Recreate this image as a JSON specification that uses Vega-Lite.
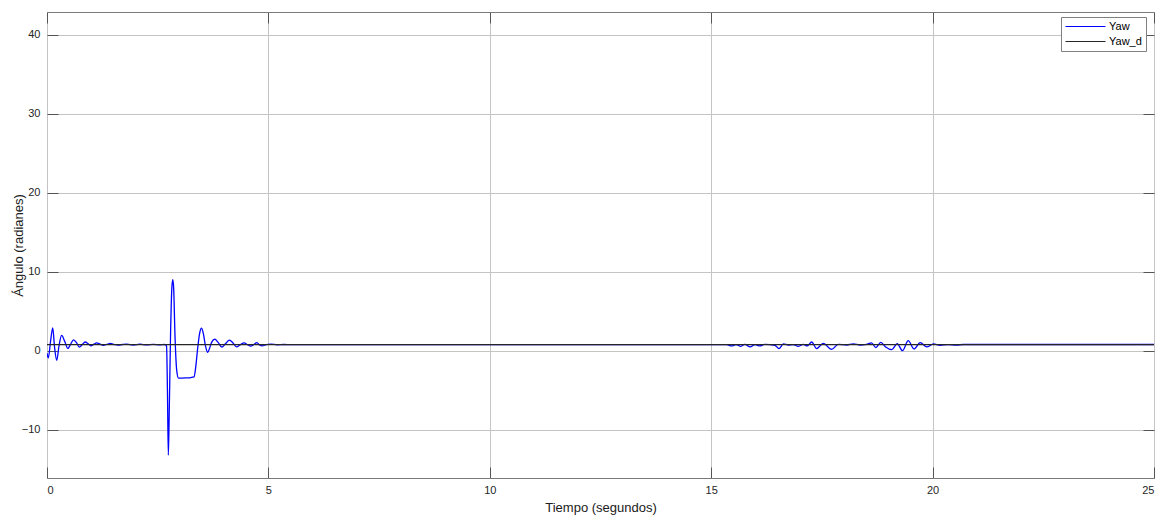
{
  "$schema": "https://vega.github.io/schema/vega-lite/v6.json",
  "width": 1107,
  "height": 466,
  "autosize": {"type": "none"},
  "padding": {"left": 47, "top": 12, "right": 12, "bottom": 42},
  "background": "white",
  "config": {
    "font": "Liberation Sans",
    "view": {"stroke": "#7a7a7a", "strokeWidth": 1},
    "axis": {
      "domain": false,
      "grid": true,
      "gridColor": "#c4c4c4",
      "gridWidth": 1,
      "tickColor": "#555555",
      "tickSize": -11,
      "labelFontSize": 11,
      "labelColor": "#262626",
      "titleFontSize": 13,
      "titleFontWeight": "normal",
      "titleColor": "#202020"
    }
  },
  "datasets": {
    "yaw": [
      {"t": 0, "v": -0.3, "s": "Yaw"},
      {"t": 0.03, "v": -0.9, "s": "Yaw"},
      {"t": 0.08, "v": 1.2, "s": "Yaw"},
      {"t": 0.13, "v": 2.9, "s": "Yaw"},
      {"t": 0.17, "v": 0.5, "s": "Yaw"},
      {"t": 0.22, "v": -1.2, "s": "Yaw"},
      {"t": 0.27, "v": 0.6, "s": "Yaw"},
      {"t": 0.33, "v": 1.95, "s": "Yaw"},
      {"t": 0.40, "v": 1.2, "s": "Yaw"},
      {"t": 0.47, "v": 0.3, "s": "Yaw"},
      {"t": 0.53, "v": 0.8, "s": "Yaw"},
      {"t": 0.60, "v": 1.4, "s": "Yaw"},
      {"t": 0.67, "v": 1.0, "s": "Yaw"},
      {"t": 0.73, "v": 0.47, "s": "Yaw"},
      {"t": 0.80, "v": 0.8, "s": "Yaw"},
      {"t": 0.86, "v": 1.12, "s": "Yaw"},
      {"t": 0.93, "v": 0.9, "s": "Yaw"},
      {"t": 0.99, "v": 0.63, "s": "Yaw"},
      {"t": 1.06, "v": 0.85, "s": "Yaw"},
      {"t": 1.12, "v": 1.0, "s": "Yaw"},
      {"t": 1.20, "v": 0.85, "s": "Yaw"},
      {"t": 1.27, "v": 0.7, "s": "Yaw"},
      {"t": 1.35, "v": 0.82, "s": "Yaw"},
      {"t": 1.43, "v": 0.93, "s": "Yaw"},
      {"t": 1.52, "v": 0.8, "s": "Yaw"},
      {"t": 1.60, "v": 0.72, "s": "Yaw"},
      {"t": 1.70, "v": 0.8, "s": "Yaw"},
      {"t": 1.80, "v": 0.86, "s": "Yaw"},
      {"t": 1.95, "v": 0.74, "s": "Yaw"},
      {"t": 2.10, "v": 0.84, "s": "Yaw"},
      {"t": 2.25, "v": 0.76, "s": "Yaw"},
      {"t": 2.40, "v": 0.82, "s": "Yaw"},
      {"t": 2.55, "v": 0.76, "s": "Yaw"},
      {"t": 2.66, "v": 0.80, "s": "Yaw"},
      {"t": 2.70, "v": 0.6, "s": "Yaw"},
      {"t": 2.72, "v": -5, "s": "Yaw"},
      {"t": 2.74, "v": -13.2, "s": "Yaw"},
      {"t": 2.76, "v": -8, "s": "Yaw"},
      {"t": 2.79, "v": 2, "s": "Yaw"},
      {"t": 2.82, "v": 8, "s": "Yaw"},
      {"t": 2.84, "v": 9.0, "s": "Yaw"},
      {"t": 2.86, "v": 8, "s": "Yaw"},
      {"t": 2.89, "v": 2, "s": "Yaw"},
      {"t": 2.93, "v": -2.5, "s": "Yaw"},
      {"t": 2.97, "v": -3.45, "s": "Yaw"},
      {"t": 3.05, "v": -3.45, "s": "Yaw"},
      {"t": 3.15, "v": -3.42, "s": "Yaw"},
      {"t": 3.25, "v": -3.38, "s": "Yaw"},
      {"t": 3.32, "v": -3.3, "s": "Yaw"},
      {"t": 3.36, "v": -2.0, "s": "Yaw"},
      {"t": 3.40, "v": 0.2, "s": "Yaw"},
      {"t": 3.45, "v": 2.3, "s": "Yaw"},
      {"t": 3.49, "v": 2.87, "s": "Yaw"},
      {"t": 3.53, "v": 2.2, "s": "Yaw"},
      {"t": 3.58, "v": 0.6, "s": "Yaw"},
      {"t": 3.63, "v": -0.2, "s": "Yaw"},
      {"t": 3.67, "v": 0.3, "s": "Yaw"},
      {"t": 3.72, "v": 1.1, "s": "Yaw"},
      {"t": 3.79, "v": 1.48, "s": "Yaw"},
      {"t": 3.86, "v": 1.1, "s": "Yaw"},
      {"t": 3.95, "v": 0.47, "s": "Yaw"},
      {"t": 4.03, "v": 0.9, "s": "Yaw"},
      {"t": 4.12, "v": 1.35, "s": "Yaw"},
      {"t": 4.20, "v": 1.0, "s": "Yaw"},
      {"t": 4.28, "v": 0.5, "s": "Yaw"},
      {"t": 4.36, "v": 0.75, "s": "Yaw"},
      {"t": 4.45, "v": 1.0, "s": "Yaw"},
      {"t": 4.53, "v": 0.78, "s": "Yaw"},
      {"t": 4.60, "v": 0.6, "s": "Yaw"},
      {"t": 4.67, "v": 0.8, "s": "Yaw"},
      {"t": 4.74, "v": 1.05, "s": "Yaw"},
      {"t": 4.80, "v": 0.75, "s": "Yaw"},
      {"t": 4.86, "v": 0.62, "s": "Yaw"},
      {"t": 4.95, "v": 0.78, "s": "Yaw"},
      {"t": 5.05, "v": 0.85, "s": "Yaw"},
      {"t": 5.20, "v": 0.76, "s": "Yaw"},
      {"t": 5.35, "v": 0.8, "s": "Yaw"},
      {"t": 5.50, "v": 0.78, "s": "Yaw"},
      {"t": 5.60, "v": 0.785, "s": "Yaw"},
      {"t": 15.35, "v": 0.785, "s": "Yaw"},
      {"t": 15.46, "v": 0.62, "s": "Yaw"},
      {"t": 15.56, "v": 0.785, "s": "Yaw"},
      {"t": 15.67, "v": 0.57, "s": "Yaw"},
      {"t": 15.76, "v": 0.83, "s": "Yaw"},
      {"t": 15.88, "v": 0.49, "s": "Yaw"},
      {"t": 15.99, "v": 0.785, "s": "Yaw"},
      {"t": 16.10, "v": 0.62, "s": "Yaw"},
      {"t": 16.21, "v": 0.83, "s": "Yaw"},
      {"t": 16.33, "v": 0.785, "s": "Yaw"},
      {"t": 16.44, "v": 0.70, "s": "Yaw"},
      {"t": 16.53, "v": 0.28, "s": "Yaw"},
      {"t": 16.63, "v": 0.87, "s": "Yaw"},
      {"t": 16.74, "v": 0.74, "s": "Yaw"},
      {"t": 16.85, "v": 0.785, "s": "Yaw"},
      {"t": 16.97, "v": 0.57, "s": "Yaw"},
      {"t": 17.08, "v": 0.83, "s": "Yaw"},
      {"t": 17.17, "v": 0.62, "s": "Yaw"},
      {"t": 17.27, "v": 1.12, "s": "Yaw"},
      {"t": 17.38, "v": 0.28, "s": "Yaw"},
      {"t": 17.53, "v": 0.95, "s": "Yaw"},
      {"t": 17.72, "v": 0.19, "s": "Yaw"},
      {"t": 17.87, "v": 0.83, "s": "Yaw"},
      {"t": 18.06, "v": 0.74, "s": "Yaw"},
      {"t": 18.21, "v": 0.87, "s": "Yaw"},
      {"t": 18.36, "v": 0.74, "s": "Yaw"},
      {"t": 18.51, "v": 0.83, "s": "Yaw"},
      {"t": 18.62, "v": 1.0, "s": "Yaw"},
      {"t": 18.72, "v": 0.41, "s": "Yaw"},
      {"t": 18.83, "v": 1.08, "s": "Yaw"},
      {"t": 18.94, "v": 0.49, "s": "Yaw"},
      {"t": 19.08, "v": 0.15, "s": "Yaw"},
      {"t": 19.20, "v": 0.91, "s": "Yaw"},
      {"t": 19.32, "v": 0.02, "s": "Yaw"},
      {"t": 19.45, "v": 1.29, "s": "Yaw"},
      {"t": 19.58, "v": 0.24, "s": "Yaw"},
      {"t": 19.72, "v": 1.04, "s": "Yaw"},
      {"t": 19.87, "v": 0.49, "s": "Yaw"},
      {"t": 20.02, "v": 0.87, "s": "Yaw"},
      {"t": 20.17, "v": 0.70, "s": "Yaw"},
      {"t": 20.35, "v": 0.785, "s": "Yaw"},
      {"t": 20.54, "v": 0.74, "s": "Yaw"},
      {"t": 20.70, "v": 0.80, "s": "Yaw"},
      {"t": 25, "v": 0.80, "s": "Yaw"}
    ],
    "yawd": [
      {"t": 0, "v": 0.785, "s": "Yaw_d"},
      {"t": 25, "v": 0.785, "s": "Yaw_d"}
    ]
  },
  "layer": [
    {
      "data": {"name": "yaw"},
      "mark": {"type": "line", "strokeWidth": 1.3, "interpolate": "monotone", "clip": true},
      "encoding": {
        "x": {
          "field": "t", "type": "quantitative",
          "scale": {"domain": [0, 25], "nice": false, "zero": false},
          "axis": {"values": [0, 5, 10, 15, 20, 25], "title": "Tiempo (segundos)", "labelPadding": 17, "titlePadding": 6}
        },
        "y": {
          "field": "v", "type": "quantitative",
          "scale": {"domain": [-16.1, 42.9], "nice": false, "zero": false},
          "axis": {"values": [-10, 0, 10, 20, 30, 40], "title": "Ángulo (radianes)", "labelPadding": 18, "titlePadding": -4}
        },
        "color": {
          "field": "s", "type": "nominal",
          "scale": {"domain": ["Yaw", "Yaw_d"], "range": ["#0000ff", "#262626"]},
          "legend": {
            "title": null,
            "orient": "none",
            "legendX": 1014,
            "legendY": 5,
            "symbolType": "M-1,0H7",
            "symbolSize": 100,
            "symbolStrokeWidth": 1,
            "labelFontSize": 11,
            "labelColor": "#000000",
            "strokeColor": "#808080",
            "fillColor": "#ffffff",
            "padding": 4,
            "rowPadding": 3,
            "labelOffset": 33,
            "encode": {
              "symbols": {
                "enter": {"stroke": {"signal": "datum.value === 'Yaw' ? '#0000ff' : '#262626'"}},
                "update": {"stroke": {"signal": "datum.value === 'Yaw' ? '#0000ff' : '#262626'"}, "strokeWidth": {"value": 1}}
              }
            }
          }
        }
      }
    },
    {
      "data": {"name": "yawd"},
      "mark": {"type": "line", "strokeWidth": 1.2},
      "encoding": {
        "x": {"field": "t", "type": "quantitative", "axis": {"orient": "top", "values": [0, 5, 10, 15, 20, 25], "labels": false, "grid": false, "title": null}},
        "y": {"field": "v", "type": "quantitative", "axis": {"orient": "right", "values": [-10, 0, 10, 20, 30, 40], "labels": false, "grid": false, "title": null}},
        "color": {"field": "s", "type": "nominal"}
      }
    }
  ],
  "resolve": {"axis": {"x": "independent", "y": "independent"}}
}
